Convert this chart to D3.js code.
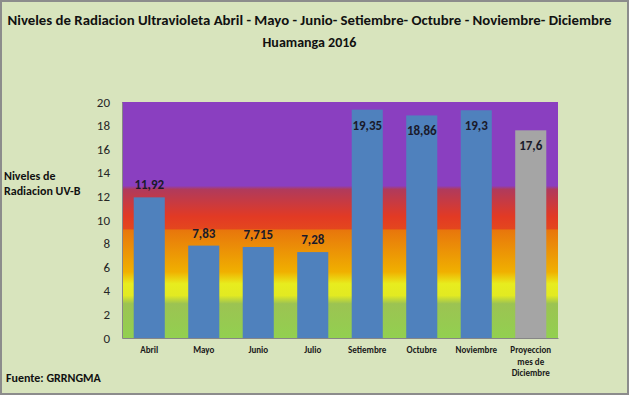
<!DOCTYPE html>
<html>
<head>
<meta charset="utf-8">
<script src="https://cdn.jsdelivr.net/npm/d3@7"></script>
<style>
  body { margin: 0; background: #fff; }
  svg { display: block; font-family: Calibri, Carlito, "Open Sans", "Liberation Sans", sans-serif; }
</style>
</head>
<body>
<div class="container"></div>
<script>
// data
let months = ['Abril', 'Mayo', 'Junio', 'Julio', 'Setiembre', 'Octubre', 'Noviembre', 'Proyeccion mes de Diciembre']
let values = [11.92, 7.83, 7.715, 7.28, 19.35, 18.86, 19.3, 17.6]
let valueLabels = ['11,92', '7,83', '7,715', '7,28', '19,35', '18,86', '19,3', '17,6']
let yTicks = [0, 2, 4, 6, 8, 10, 12, 14, 16, 18, 20]
// UV band gradient (value, colour)
let bandStops = [
  [0, '#92d050'], [2.9, '#9cc352'], [3.6, '#e2ea22'], [4.6, '#e8ec1e'], [5.6, '#f0b000'],
  [9.15, '#e8760c'], [9.25, '#e4461e'], [10.3, '#e23a24'], [12.6, '#b03a5c'], [12.9, '#8a3fc0'], [20, '#8a3fc0']
]

let width = 629, height = 395
let margin = {top: 102, right: 71, bottom: 57, left: 122}

let svg = d3.select('.container')
    .append('svg')
    .attr('width', width)
    .attr('height', height)

svg.append('rect')
    .attr('x', 1).attr('y', 1)
    .attr('width', width - 2).attr('height', height - 2)
    .attr('fill', '#d8e4bd')
    .attr('stroke', '#8c8c8c')
    .attr('stroke-width', 2)

let x = d3.scaleBand()
    .domain(months)
    .range([margin.left, width - margin.right])
    .paddingInner(0.43)
    .paddingOuter(0.215)

let y = d3.scaleLinear()
    .domain([0, 20])
    .range([height - margin.bottom, margin.top])

// gradient background of the plot
let grad = svg.append('defs').append('linearGradient')
    .attr('id', 'uv')
    .attr('gradientUnits', 'userSpaceOnUse')
    .attr('x1', 0).attr('x2', 0)
    .attr('y1', y(0)).attr('y2', y(20))
grad.selectAll('stop')
    .data(bandStops)
    .enter().append('stop')
    .attr('offset', d => d[0] / 20)
    .attr('stop-color', d => d[1])

svg.append('rect')
    .attr('x', margin.left)
    .attr('y', y(20))
    .attr('width', width - margin.right - margin.left)
    .attr('height', y(0) - y(20))
    .attr('fill', 'url(#uv)')

// y axis
let yAxis = svg.append('g')
    .attr('transform', `translate(${margin.left},0)`)
    .call(d3.axisLeft(y).tickValues(yTicks).tickSize(0).tickPadding(12))
yAxis.select('.domain').attr('stroke', '#868686')
yAxis.selectAll('text')
    .attr('font-size', 13)
    .attr('fill', '#262626')
    .style('font-family', 'Calibri, Carlito, "Open Sans", sans-serif')

// x axis
let xAxis = svg.append('g')
    .attr('transform', `translate(0,${y(0)})`)
    .call(d3.axisBottom(x).tickSize(0).tickFormat(''))
xAxis.select('.domain').attr('stroke', '#868686')

let xl = svg.append('g').selectAll('text')
    .data(months)
    .enter().append('text')
    .attr('x', d => x(d) + x.bandwidth() / 2)
    .attr('y', 353)
    .attr('text-anchor', 'middle')
    .attr('font-size', 9)
    .attr('font-weight', 'bold')
    .attr('fill', '#1a1a1a')
xl.each(function(d) {
    let lines = d.startsWith('Proyeccion') ? ['Proyeccion', 'mes de', 'Diciembre'] : [d]
    d3.select(this).selectAll('tspan')
        .data(lines)
        .enter().append('tspan')
        .attr('x', x(d) + x.bandwidth() / 2)
        .attr('dy', (l, i) => i ? 11.5 : 0)
        .text(l => l)
})

// bars
svg.append('g').selectAll('rect')
    .data(values)
    .enter().append('rect')
    .attr('x', (d, i) => x(months[i]))
    .attr('y', d => y(d))
    .attr('width', x.bandwidth())
    .attr('height', d => y(0) - y(d))
    .attr('fill', (d, i) => i == values.length - 1 ? '#a5a5a5' : '#4f81bd')

svg.append('g').selectAll('text')
    .data(values)
    .enter().append('text')
    .attr('x', (d, i) => x(months[i]) + x.bandwidth() / 2)
    .attr('y', d => d > 15 ? y(d) + 20 : y(d) - 8)
    .attr('text-anchor', 'middle')
    .attr('font-size', 13)
    .attr('font-weight', 'bold')
    .attr('fill', '#1a1a2a')
    .text((d, i) => valueLabels[i])

// titles
let title = svg.append('text')
    .attr('x', width / 2 - 5)
    .attr('text-anchor', 'middle')
    .attr('font-size', 14)
    .attr('font-weight', 'bold')
    .attr('fill', '#111')
title.append('tspan')
    .attr('x', width / 2 - 5).attr('y', 25)
    .attr('textLength', 604).attr('lengthAdjust', 'spacingAndGlyphs')
    .text('Niveles de Radiacion Ultravioleta Abril - Mayo  - Junio- Setiembre- Octubre - Noviembre- Diciembre')
title.append('tspan')
    .attr('x', width / 2 - 5).attr('y', 47)
    .text('Huamanga  2016')

svg.append('text')
    .attr('x', 4).attr('y', 180)
    .attr('font-size', 12)
    .attr('font-weight', 'bold')
    .attr('fill', '#111')
    .selectAll('tspan')
    .data(['Niveles de', 'Radiacion UV-B'])
    .enter().append('tspan')
    .attr('x', 4)
    .attr('dy', (d, i) => i ? 15 : 0)
    .text(d => d)

svg.append('text')
    .attr('x', 6).attr('y', 382)
    .attr('font-size', 12)
    .attr('font-weight', 'bold')
    .attr('fill', '#111')
    .text('Fuente: GRRNGMA')
</script>
</body>
</html>
